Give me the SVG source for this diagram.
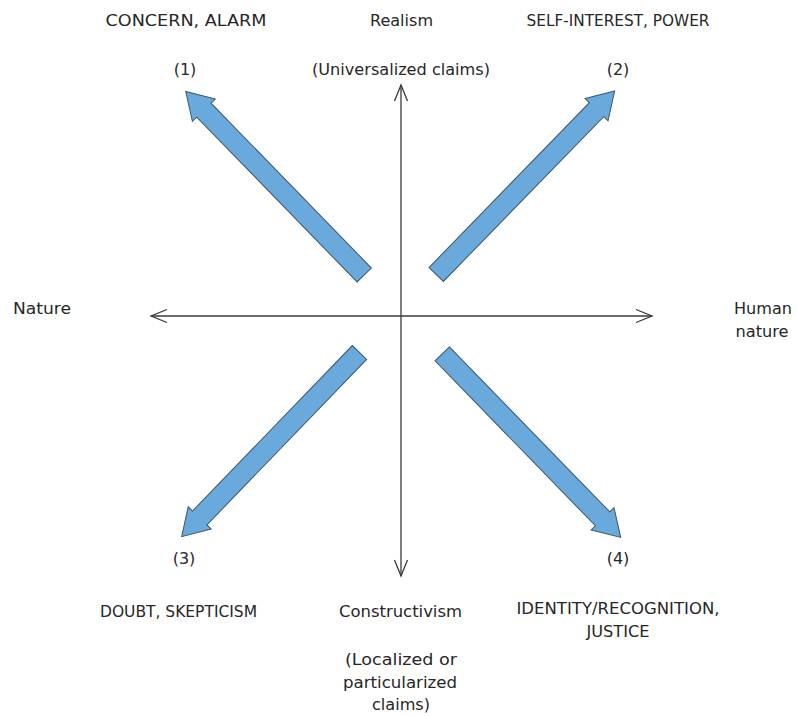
<svg xmlns="http://www.w3.org/2000/svg" xmlns:xlink="http://www.w3.org/1999/xlink" width="797" height="716" viewBox="0 0 797 716">
  <style>
    text { font-family: "DejaVu Sans", "Liberation Sans", sans-serif; font-size: 16px; fill: #262626; text-anchor: middle; }
    .axis { stroke: #3a3a3a; stroke-width: 1.3; fill: none; }
    .big { fill: #6AA9DC; stroke: #3C566B; stroke-width: 1; stroke-linejoin: miter; }
  </style>
  <defs>
    <marker id="chev" markerUnits="userSpaceOnUse" markerWidth="20" markerHeight="20" viewBox="-18 -10 20 20" refX="0" refY="0" orient="auto-start-reverse">
      <path d="M-16,-6.5 L0,0 L-16,6.5" fill="none" stroke="#3a3a3a" stroke-width="1.3"/>
    </marker>
    <polygon id="bigArrow" points="0,-10 230,-10 230,-16 256,0 230,16 230,10 0,10"/>
  </defs>

  <g id="connectors">
    <line id="axis-x" class="axis" x1="151" y1="316" x2="652" y2="316" marker-start="url(#chev)" marker-end="url(#chev)"/>
    <line id="axis-y" class="axis" x1="401" y1="85" x2="401" y2="576" marker-start="url(#chev)" marker-end="url(#chev)"/>
    <use id="arrow-1" class="big" xlink:href="#bigArrow" href="#bigArrow" transform="translate(364.2,275) rotate(-134.2)"/>
    <use id="arrow-2" class="big" xlink:href="#bigArrow" href="#bigArrow" transform="translate(436.2,274.5) rotate(-45.8)"/>
    <use id="arrow-3" class="big" xlink:href="#bigArrow" href="#bigArrow" transform="translate(359.5,352.5) rotate(134)"/>
    <use id="arrow-4" class="big" xlink:href="#bigArrow" href="#bigArrow" transform="translate(442.2,353.9) rotate(45.8)"/>
  </g>

  <g id="node-concern"><text x="186" y="26" textLength="161" lengthAdjust="spacingAndGlyphs">CONCERN, ALARM</text></g>
  <g id="node-realism"><text x="401.5" y="26" textLength="63" lengthAdjust="spacingAndGlyphs">Realism</text></g>
  <g id="node-self-interest"><text x="618" y="26" textLength="183" lengthAdjust="spacingAndGlyphs">SELF-INTEREST, POWER</text></g>
  <g id="node-1"><text x="185" y="75">(1)</text></g>
  <g id="node-universalized"><text x="401" y="75" textLength="178" lengthAdjust="spacingAndGlyphs">(Universalized claims)</text></g>
  <g id="node-2"><text x="618" y="75">(2)</text></g>
  <g id="node-nature"><text x="42" y="314" textLength="58" lengthAdjust="spacingAndGlyphs">Nature</text></g>
  <g id="node-human-nature">
    <text x="763" y="314" textLength="58" lengthAdjust="spacingAndGlyphs">Human</text>
    <text x="762" y="337" textLength="53" lengthAdjust="spacingAndGlyphs">nature</text>
  </g>
  <g id="node-3"><text x="184" y="564">(3)</text></g>
  <g id="node-4"><text x="618" y="564">(4)</text></g>
  <g id="node-doubt"><text x="178.5" y="617" textLength="157" lengthAdjust="spacingAndGlyphs">DOUBT, SKEPTICISM</text></g>
  <g id="node-constructivism"><text x="400.5" y="617" textLength="123" lengthAdjust="spacingAndGlyphs">Constructivism</text></g>
  <g id="node-identity">
    <text x="618" y="614" textLength="203" lengthAdjust="spacingAndGlyphs">IDENTITY/RECOGNITION,</text>
    <text x="618" y="637" textLength="63" lengthAdjust="spacingAndGlyphs">JUSTICE</text>
  </g>
  <g id="node-localized">
    <text x="401" y="665" textLength="112" lengthAdjust="spacingAndGlyphs">(Localized or</text>
    <text x="400" y="688" textLength="114" lengthAdjust="spacingAndGlyphs">particularized</text>
    <text x="401" y="710" textLength="58" lengthAdjust="spacingAndGlyphs">claims)</text>
  </g>
</svg>
